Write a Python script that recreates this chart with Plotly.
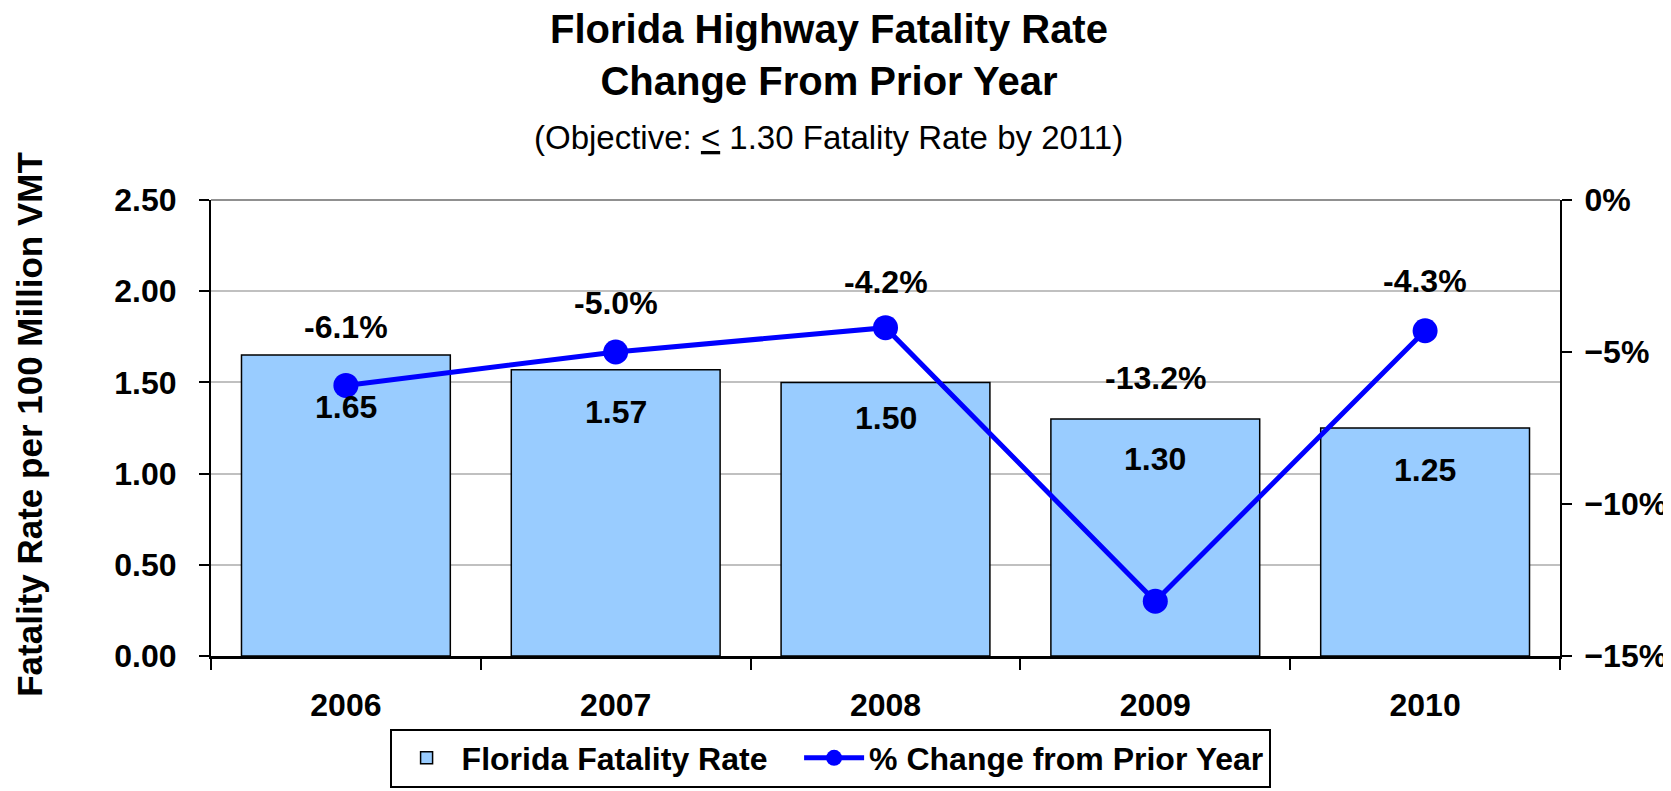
import plotly.graph_objects as go

# chart data
years = ["2006", "2007", "2008", "2009", "2010"]
fatality_rate = [1.65, 1.57, 1.50, 1.30, 1.25]
pct_change = [-6.1, -5.0, -4.2, -13.2, -4.3]
rate_labels = ["1.65", "1.57", "1.50", "1.30", "1.25"]
pct_labels = ["-6.1%", "-5.0%", "-4.2%", "-13.2%", "-4.3%"]

# label placement (pixels), as in the source chart
rate_label_drop = [52, 42, 36, 40, 42]
pct_label_lift = [58, 49, 46, 223, 50]

FONT = "Arial, Liberation Sans, sans-serif"
BOLD = dict(family=FONT, size=32, color="black", weight="bold")

plot_l, plot_r, plot_t, plot_b = 203, 1554, 192, 651
pw, ph = plot_r - plot_l, plot_b - plot_t

fig = go.Figure()

fig.add_trace(go.Bar(
    x=years, y=fatality_rate, name="Florida Fatality Rate\u00a0\u00a0\u00a0",
    marker=dict(color="#99CCFF", line=dict(color="black", width=1.5)),
))

fig.add_trace(go.Scatter(
    x=years, y=pct_change, name="% Change from Prior Year", yaxis="y2",
    mode="lines+markers",
    line=dict(color="#0000FF", width=5),
    marker=dict(color="#0000FF", size=25),
))

annotations = []
# category index used for x so "2006" is not read as a numeric position
for i, (val, lab, drop) in enumerate(zip(fatality_rate, rate_labels, rate_label_drop)):
    annotations.append(dict(x=i, y=val, xref="x", yref="y", text=lab,
                            showarrow=False, xanchor="center", yanchor="middle",
                            yshift=-drop, font=BOLD))
for i, (val, lab, lift) in enumerate(zip(pct_change, pct_labels, pct_label_lift)):
    annotations.append(dict(x=i, y=val, xref="x", yref="y2", text=lab,
                            showarrow=False, xanchor="center", yanchor="middle",
                            yshift=lift, font=BOLD))

# subtitle and left axis title
annotations.append(dict(
    x=(821 - plot_l) / pw, y=(plot_b - 129) / ph, xref="paper", yref="paper",
    text="(Objective: <u>&lt;</u> 1.30 Fatality Rate by 2011)",
    showarrow=False, xanchor="center", yanchor="middle",
    font=dict(family=FONT, size=33, color="black"),
))
annotations.append(dict(
    x=(21 - plot_l) / pw, y=(plot_b - 418) / ph, xref="paper", yref="paper",
    text="Fatality Rate per 100 Million VMT", textangle=-90,
    showarrow=False, xanchor="center", yanchor="middle",
    font=dict(family=FONT, size=35, color="black", weight="bold"),
))

fig.update_layout(
    width=1671, height=791,
    margin=dict(l=plot_l, r=1671 - plot_r, t=plot_t, b=791 - plot_b, pad=0),
    paper_bgcolor="white", plot_bgcolor="white",
    font=dict(family=FONT, color="black"),
    title=dict(
        text="Florida Highway Fatality Rate<br>Change From Prior Year",
        x=821 / 1671, xanchor="center", xref="container",
        y=1 - 35 / 791, yanchor="top", yref="container",
        font=dict(family=FONT, size=40, color="black", weight="bold"),
    ),
    bargap=0.226,
    showlegend=True,
    legend=dict(
        orientation="h", x=(823 - plot_l) / pw, xanchor="center",
        y=(plot_b - 724) / ph, yanchor="top",
        bordercolor="black", borderwidth=2, bgcolor="white",
        font=BOLD, itemwidth=60, traceorder="normal",
    ),
    xaxis=dict(
        type="category", range=[-0.5, len(years) - 0.5], tickson="boundaries",
        ticks="outside", ticklen=11, tickwidth=2, tickcolor="black",
        showline=True, linecolor="black", linewidth=2.5, tickfont=BOLD,
        ticklabelstandoff=19, showgrid=False, tickangle=0,
    ),
    yaxis=dict(
        range=[0, 2.5], dtick=0.5, tickformat=".2f", ticks="outside",
        ticklen=10, tickwidth=2, tickcolor="black", showline=True,
        linecolor="black", linewidth=2, gridcolor="#C0C0C0", gridwidth=1.5,
        zeroline=False, tickfont=BOLD, ticklabelstandoff=16,
    ),
    yaxis2=dict(
        range=[-15, 0], dtick=5, ticksuffix="%", overlaying="y", side="right",
        ticks="outside", ticklen=10, tickwidth=2, tickcolor="black",
        showline=True, linecolor="black", linewidth=2, showgrid=False,
        zeroline=False, tickfont=BOLD, ticklabelstandoff=6,
    ),
    # top frame line of the plot area, grey like the gridlines
    shapes=[dict(type="line", xref="paper", yref="paper", x0=0, x1=1, y0=1, y1=1,
                 line=dict(color="#909090", width=2), layer="below")],
    annotations=annotations,
)

fig.write_html("out.html")
